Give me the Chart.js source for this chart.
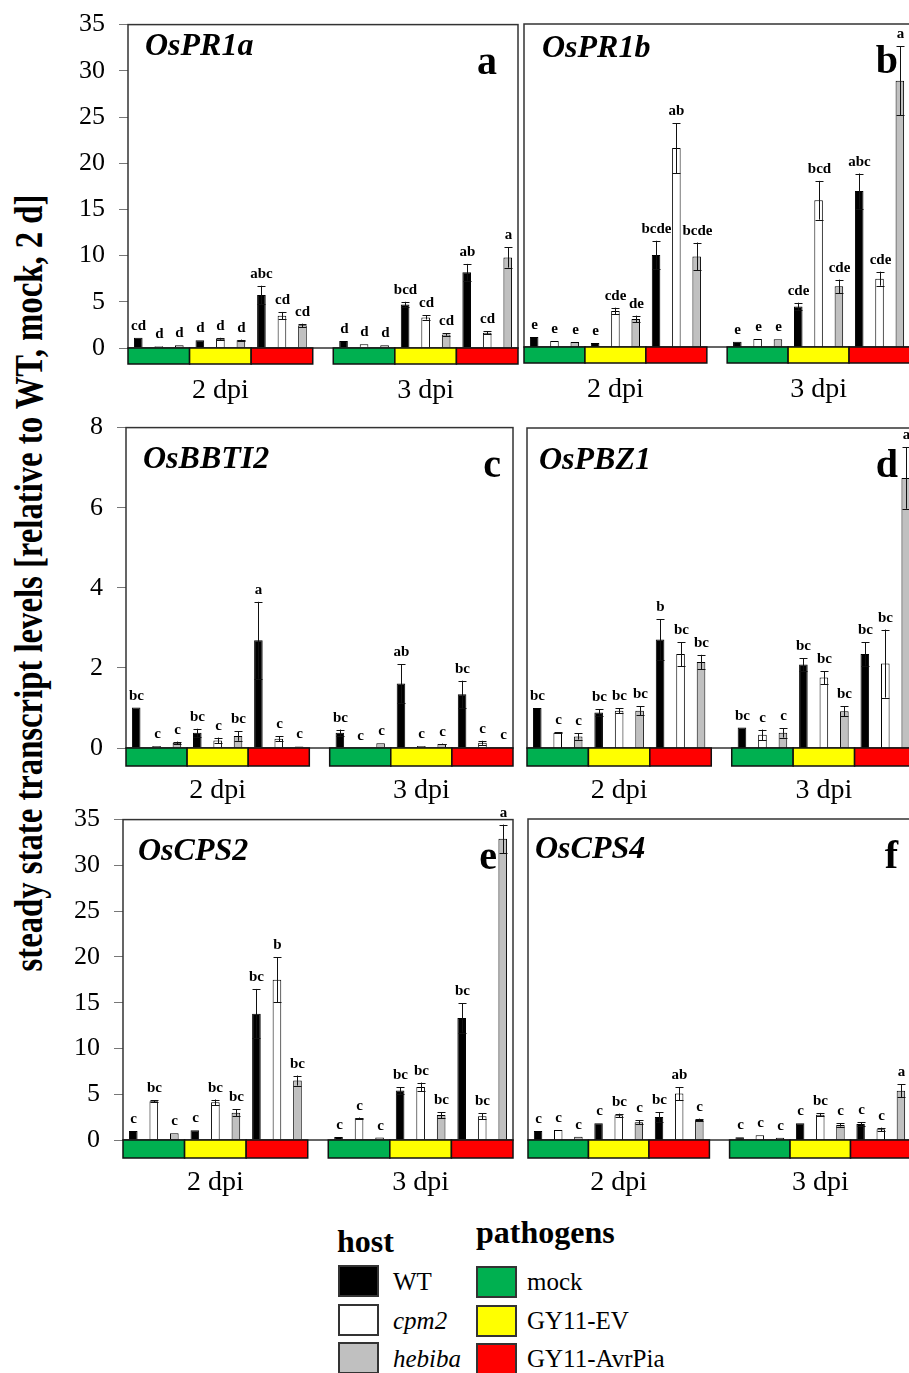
<!DOCTYPE html>
<html>
<head>
<meta charset="utf-8">
<script src="https://cdn.jsdelivr.net/npm/chart.js@4.4.0/dist/chart.umd.min.js"></script>
<style>
  body { margin: 0; width: 909px; height: 1373px; overflow: hidden; background: #fff; position: relative; font-family: "Liberation Serif", "Times New Roman", serif; }
  canvas { position: absolute; }
  #ytitle { position: absolute; white-space: nowrap; font: bold 40px "Liberation Serif", serif; line-height: 40px; transform-origin: 50% 50%; }
  .lg { position: absolute; white-space: nowrap; line-height: 1; }
  .lg-title { font-weight: bold; font-size: 32px; }
  .lg-text { font-size: 25px; }
  .sw { position: absolute; box-sizing: border-box; border: 2px solid #333; }
</style>
</head>
<body>
<canvas id="pA"></canvas>
<canvas id="pB"></canvas>
<canvas id="pC"></canvas>
<canvas id="pD"></canvas>
<canvas id="pE"></canvas>
<canvas id="pF"></canvas>
<div id="ytitle">steady state transcript levels [relative to WT, mock, 2 d]</div>
<div id="legend"></div>
<script>
// categories
const HOSTS = ['WT', 'cpm2', 'hebiba'];
const PATHOGENS = ['mock', 'GY11-EV', 'GY11-AvrPia'];
const DPI = ['2 dpi', '3 dpi'];
const HOST_COLORS = ['#000000', '#ffffff', '#c0c0c0'];
const PATHOGEN_COLORS = ['#00b050', '#ffff00', '#ff0000'];

// values: order is dpi -> pathogen -> host (18 per panel)
const PR1A_MEAN = [1.1, 0.2, 0.3, 0.83, 1.0, 0.83, 5.74, 3.5, 2.45, 0.76, 0.4, 0.3, 4.7, 3.3, 1.45, 8.2, 1.66, 9.8];
const PR1A_ERR = [0, 0, 0, 0, 0.1, 0.08, 1.0, 0.4, 0.18, 0, 0, 0, 0.3, 0.22, 0.12, 0.9, 0.15, 1.1];
const PR1A_LETTERS = ['cd', 'd', 'd', 'd', 'd', 'd', 'abc', 'cd', 'cd', 'd', 'd', 'd', 'bcd', 'cd', 'cd', 'ab', 'cd', 'a'];

const PR1B_MEAN = [1.08, 0.65, 0.54, 0.43, 3.9, 3.03, 9.96, 21.55, 9.82, 0.58, 0.87, 0.83, 4.4, 15.9, 6.57, 16.9, 7.4, 28.85];
const PR1B_ERR = [0, 0, 0, 0, 0.36, 0.37, 1.55, 2.7, 1.5, 0, 0, 0, 0.4, 2.1, 0.73, 1.9, 0.76, 3.75];
const PR1B_LETTERS = ['e', 'e', 'e', 'e', 'cde', 'de', 'bcde', 'ab', 'bcde', 'e', 'e', 'e', 'cde', 'bcd', 'cde', 'abc', 'cde', 'a'];

const BBTI2_MEAN = [1.01, 0.05, 0.13, 0.38, 0.19, 0.3, 2.69, 0.23, 0.04, 0.38, 0.01, 0.12, 1.61, 0.05, 0.1, 1.34, 0.13, 0.02];
const BBTI2_ERR = [0, 0, 0.03, 0.1, 0.07, 0.12, 0.96, 0.06, 0, 0.08, 0, 0, 0.48, 0, 0.01, 0.34, 0.05, 0];
const BBTI2_LETTERS = ['bc', 'c', 'c', 'bc', 'c', 'bc', 'a', 'c', 'c', 'bc', 'c', 'c', 'ab', 'c', 'c', 'bc', 'c', 'c'];

const PBZ1_MEAN = [1.0, 0.38, 0.29, 0.89, 0.93, 0.93, 2.71, 2.35, 2.15, 0.51, 0.33, 0.38, 2.09, 1.76, 0.92, 2.35, 2.11, 6.75];
const PBZ1_ERR = [0, 0.01, 0.08, 0.08, 0.06, 0.11, 0.51, 0.3, 0.18, 0, 0.13, 0.12, 0.16, 0.16, 0.12, 0.29, 0.85, 0.77];
const PBZ1_LETTERS = ['bc', 'c', 'c', 'bc', 'bc', 'bc', 'b', 'bc', 'bc', 'bc', 'c', 'c', 'bc', 'bc', 'bc', 'bc', 'bc', 'a'];

const CPS2_MEAN = [0.98, 4.23, 0.73, 1.06, 4.12, 2.99, 13.8, 17.5, 6.49, 0.33, 2.37, 0.26, 5.4, 5.8, 2.73, 13.34, 2.59, 32.9];
const CPS2_ERR = [0, 0.1, 0, 0, 0.3, 0.36, 2.7, 2.44, 0.55, 0, 0.08, 0, 0.36, 0.47, 0.33, 1.6, 0.33, 1.55];
const CPS2_LETTERS = ['c', 'bc', 'c', 'c', 'bc', 'bc', 'bc', 'b', 'bc', 'c', 'c', 'c', 'bc', 'bc', 'bc', 'bc', 'bc', 'a'];

const CPS4_MEAN = [0.98, 1.09, 0.36, 1.82, 2.69, 1.93, 2.51, 5.06, 2.18, 0.29, 0.51, 0.25, 1.82, 2.76, 1.64, 1.75, 1.16, 5.38];
const CPS4_ERR = [0, 0, 0, 0, 0.18, 0.22, 0.51, 0.72, 0.15, 0, 0, 0, 0, 0.19, 0.18, 0.18, 0.19, 0.69];
const CPS4_LETTERS = ['c', 'c', 'c', 'c', 'bc', 'c', 'bc', 'ab', 'c', 'c', 'c', 'c', 'c', 'bc', 'c', 'c', 'c', 'a'];

const TICKS_35 = [0, 5, 10, 15, 20, 25, 30, 35];
const TICKS_8 = [0, 2, 4, 6, 8];

const SERIF = '"Liberation Serif", "Times New Roman", serif';

// slot on the x axis: 9 bars per dpi, one empty slot between the two dpi groups
const slotOf = i => Math.floor(i / 9) * 10 + (i % 9);

const LABELS = [];
DPI.forEach((d, di) => {
  PATHOGENS.forEach(p => HOSTS.forEach(h => LABELS.push(`${d} ${p} ${h}`)));
  if (di === 0) LABELS.push('');
});

const decor = {
  id: 'decor',
  afterDatasetsDraw(chart, args, o) {
    const { ctx, chartArea: a, scales: { x, y } } = chart;
    const off = chart.canvas.offsetLeft;
    const slot = x.getPixelForValue(1) - x.getPixelForValue(0);
    ctx.save();

    // error bars + letters
    ctx.strokeStyle = '#111';
    ctx.lineWidth = 1;
    ctx.fillStyle = '#000';
    ctx.font = `bold 15px ${SERIF}`;
    ctx.textAlign = 'center';
    ctx.textBaseline = 'alphabetic';
    o.mean.forEach((m, i) => {
      const cx = Math.round(x.getPixelForValue(slotOf(i))) + 0.5;
      const e = o.err[i];
      const top = y.getPixelForValue(m + e);
      if (e > 0) {
        const bot = y.getPixelForValue(Math.max(m - e, 0));
        ctx.beginPath();
        ctx.moveTo(cx, top); ctx.lineTo(cx, bot);
        ctx.moveTo(cx - 4, Math.round(top) + 0.5); ctx.lineTo(cx + 4, Math.round(top) + 0.5);
        ctx.moveTo(cx - 4, Math.round(bot) + 0.5); ctx.lineTo(cx + 4, Math.round(bot) + 0.5);
        ctx.stroke();
      }
      ctx.fillText(o.letters[i], cx, top - 8);
    });

    // frame
    ctx.strokeStyle = '#333';
    ctx.lineWidth = 1.5;
    ctx.strokeRect(a.left, a.top, a.right - a.left, a.bottom - a.top);

    // pathogen strips
    DPI.forEach((d, di) => {
      PATHOGENS.forEach((p, pi) => {
        const x0 = x.getPixelForValue(di * 10 + pi * 3) - slot / 2;
        ctx.fillStyle = PATHOGEN_COLORS[pi];
        ctx.fillRect(x0, a.bottom, slot * 3, o.strip);
        ctx.strokeStyle = '#111';
        ctx.lineWidth = 1.5;
        ctx.strokeRect(x0, a.bottom, slot * 3, o.strip);
      });
      const mid = (x.getPixelForValue(di * 10) + x.getPixelForValue(di * 10 + 8)) / 2;
      ctx.fillStyle = '#000';
      ctx.font = `28px ${SERIF}`;
      ctx.fillText(d, mid, a.bottom + 50);
    });

    // gene name + panel tag
    ctx.textAlign = 'left';
    ctx.font = `italic bold 32px ${SERIF}`;
    ctx.fillText(o.gene, o.geneX - off, a.top + o.geneDy);
    ctx.textAlign = 'right';
    ctx.font = `bold 40px ${SERIF}`;
    ctx.fillText(o.tag, o.tagX - off, a.top + 49);
    ctx.restore();
  }
};

function buildChart(canvas, box, mean, err, letters, ticks, cLeft, pad) {
  const datasets = HOSTS.map((h, hi) => {
    const data = LABELS.map(() => null);
    mean.forEach((m, i) => { if (i % 3 === hi) data[slotOf(i)] = m; });
    return {
      label: h, data, grouped: false,
      backgroundColor: HOST_COLORS[hi], borderColor: '#000', borderWidth: 1,
      barPercentage: 0.42, categoryPercentage: 1
    };
  });
  return new Chart(canvas, {
    type: 'bar',
    data: { labels: LABELS, datasets },
    options: {
      responsive: false, animation: false, events: [],
      layout: { padding: pad },
      plugins: {
        legend: { display: false }, tooltip: { enabled: false },
        decor: { mean, err, letters, gene: box.gene, tag: box.tag, geneX: box.geneX, geneDy: box.geneDy, tagX: box.tagX, strip: box.strip }
      },
      scales: {
        x: { display: false },
        y: {
          min: 0, max: ticks[ticks.length - 1],
          afterBuildTicks: s => { s.ticks = ticks.map(v => ({ value: v })); },
          afterFit: s => { s.width = box.L - cLeft; },
          ticks: { display: box.ticks, color: '#000', padding: 14, font: { family: SERIF, size: 26 } },
          grid: { display: box.ticks, drawOnChartArea: false, drawTicks: true, tickLength: 9, color: '#777' },
          border: { display: false }
        }
      }
    },
    plugins: [decor]
  });
}

function makePanel(id, box, mean, err, letters, ticks) {
  const cLeft = box.ticks ? box.L - 60 : box.L - 4;
  const cRight = box.R + 6;
  const pad = { top: 22, right: cRight - box.R, bottom: 62, left: 0 };
  const canvas = document.getElementById(id);
  canvas.width = cRight - cLeft;
  canvas.height = pad.top + (box.B - box.T) + pad.bottom;
  canvas.style.left = cLeft + 'px';

  let chart = buildChart(canvas, box, mean, err, letters, ticks, cLeft, pad);
  // tick labels may eat into the plot height: grow the canvas until the value range has the frame's height
  const dH = (box.B - box.T) - (chart.chartArea.bottom - chart.chartArea.top);
  if (Math.abs(dH) > 0.5) {
    chart.destroy();
    canvas.width = cRight - cLeft;
    canvas.height = canvas.height + Math.round(dH);
    chart = buildChart(canvas, box, mean, err, letters, ticks, cLeft, pad);
  }
  canvas.style.top = (box.T - chart.chartArea.top) + 'px';
  return chart;
}

makePanel('pA', { L: 128, T: 25, R: 518, B: 348, ticks: true, gene: 'OsPR1a', tag: 'a', geneX: 145, geneDy: 30, tagX: 497, strip: 16 }, PR1A_MEAN, PR1A_ERR, PR1A_LETTERS, TICKS_35);
makePanel('pB', { L: 524, T: 24, R: 910, B: 347, ticks: false, gene: 'OsPR1b', tag: 'b', geneX: 542, geneDy: 33, tagX: 898, strip: 16 }, PR1B_MEAN, PR1B_ERR, PR1B_LETTERS, TICKS_35);
makePanel('pC', { L: 126, T: 428, R: 513, B: 748, ticks: true, gene: 'OsBBTI2', tag: 'c', geneX: 143, geneDy: 40, tagX: 501, strip: 18 }, BBTI2_MEAN, BBTI2_ERR, BBTI2_LETTERS, TICKS_8);
makePanel('pD', { L: 527, T: 428, R: 916, B: 748, ticks: false, gene: 'OsPBZ1', tag: 'd', geneX: 539, geneDy: 41, tagX: 898, strip: 18 }, PBZ1_MEAN, PBZ1_ERR, PBZ1_LETTERS, TICKS_8);
makePanel('pE', { L: 123, T: 820, R: 513, B: 1140, ticks: true, gene: 'OsCPS2', tag: 'e', geneX: 138, geneDy: 40, tagX: 497, strip: 18 }, CPS2_MEAN, CPS2_ERR, CPS2_LETTERS, TICKS_35);
makePanel('pF', { L: 528, T: 819, R: 911, B: 1140, ticks: false, gene: 'OsCPS4', tag: 'f', geneX: 535, geneDy: 39, tagX: 898, strip: 18 }, CPS4_MEAN, CPS4_ERR, CPS4_LETTERS, TICKS_35);

// rotated y title, squeezed to the length it has in the figure
const yt = document.getElementById('ytitle');
const yw = yt.offsetWidth, yh = yt.offsetHeight;
yt.style.left = (29 - yw / 2) + 'px';
yt.style.top = (583 - yh / 2) + 'px';
yt.style.transform = `rotate(-90deg) scaleX(${777 / yw})`;

// legend
const legend = document.getElementById('legend');
function addText(txt, cls, left, baseline, size, italic) {
  const el = document.createElement('div');
  el.className = 'lg ' + cls;
  el.textContent = txt;
  el.style.left = left + 'px';
  el.style.top = (baseline - 0.8375 * size) + 'px';
  if (italic) el.style.fontStyle = 'italic';
  legend.appendChild(el);
}
function addSwatch(color, left, top) {
  const el = document.createElement('div');
  el.className = 'sw';
  el.style.cssText = `left:${left}px;top:${top}px;width:41px;height:32px;background:${color}`;
  legend.appendChild(el);
}
const ROW_TOPS = [1265, 1304, 1342];
addText('host', 'lg-title', 337, 1252, 32);
addText('pathogens', 'lg-title', 476, 1243, 32);
HOSTS.forEach((h, i) => {
  addSwatch(HOST_COLORS[i], 338, ROW_TOPS[i]);
  addText(h, 'lg-text', 393, ROW_TOPS[i] + 25, 25, i > 0);
});
PATHOGENS.forEach((p, i) => {
  addSwatch(PATHOGEN_COLORS[i], 476, ROW_TOPS[i] + 1);
  addText(p, 'lg-text', 527, ROW_TOPS[i] + 25, 25, false);
});
</script>
</body>
</html>
